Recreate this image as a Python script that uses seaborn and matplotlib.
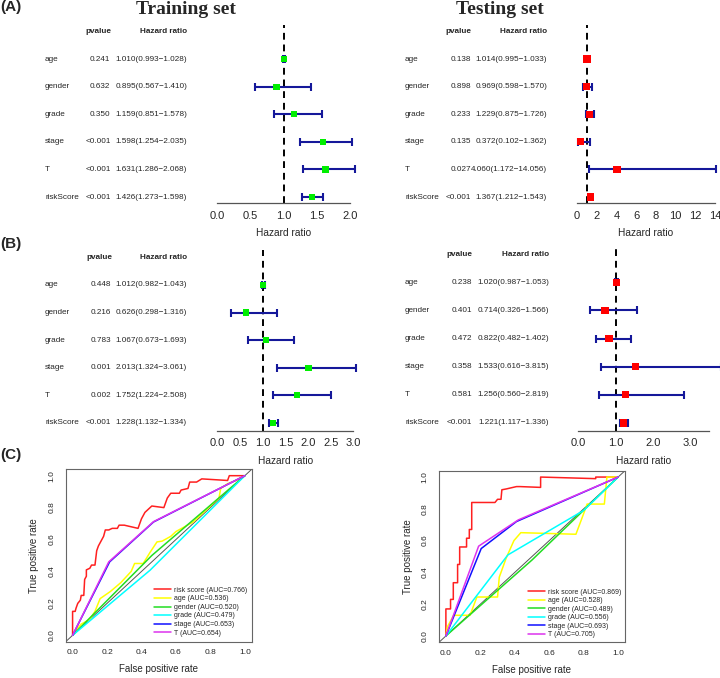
import numpy as np
import pandas as pd
import matplotlib
matplotlib.use("Agg")
import matplotlib.pyplot as plt
import seaborn as sns
from matplotlib.transforms import blended_transform_factory

sns.set_style("white")
plt.rcParams["font.family"] = ["Liberation Sans", "DejaVu Sans"]

# ---------------- data ----------------
variables = ["age", "gender", "grade", "stage", "T", "riskScore"]

trainA_p = ["0.241", "0.632", "0.350", "<0.001", "<0.001", "<0.001"]
trainA_hr = [1.010, 0.895, 1.159, 1.598, 1.631, 1.426]
trainA_lo = [0.993, 0.567, 0.851, 1.254, 1.286, 1.273]
trainA_hi = [1.028, 1.410, 1.578, 2.035, 2.068, 1.598]

testA_p = ["0.138", "0.898", "0.233", "0.135", "0.027", "<0.001"]
testA_hr = [1.014, 0.969, 1.229, 0.372, 4.060, 1.367]
testA_lo = [0.995, 0.598, 0.875, 0.102, 1.172, 1.212]
testA_hi = [1.033, 1.570, 1.726, 1.362, 14.056, 1.543]

trainB_p = ["0.448", "0.216", "0.783", "0.001", "0.002", "<0.001"]
trainB_hr = [1.012, 0.626, 1.067, 2.013, 1.752, 1.228]
trainB_lo = [0.982, 0.298, 0.673, 1.324, 1.224, 1.132]
trainB_hi = [1.043, 1.316, 1.693, 3.061, 2.508, 1.334]

testB_p = ["0.238", "0.401", "0.472", "0.358", "0.581", "<0.001"]
testB_hr = [1.020, 0.714, 0.822, 1.533, 1.256, 1.221]
testB_lo = [0.987, 0.326, 0.482, 0.616, 0.560, 1.117]
testB_hi = [1.053, 1.566, 1.402, 3.815, 2.819, 1.336]

trainA_ticks = [0.0, 0.5, 1.0, 1.5, 2.0]
trainA_ticklabels = ["0.0", "0.5", "1.0", "1.5", "2.0"]
testA_ticks = [0, 2, 4, 6, 8, 10, 12, 14]
testA_ticklabels = ["0", "2", "4", "6", "8", "10", "12", "14"]
trainB_ticks = [0.0, 0.5, 1.0, 1.5, 2.0, 2.5, 3.0]
trainB_ticklabels = ["0.0", "0.5", "1.0", "1.5", "2.0", "2.5", "3.0"]
testB_ticks = [0.0, 0.5, 1.0, 1.5, 2.0, 2.5, 3.0, 3.5]
testB_ticklabels = ["0.0", "", "1.0", "", "2.0", "", "3.0", ""]

roc_labels = ["risk score", "age", "gender", "grade", "stage", "T"]
train_auc = ["0.766", "0.536", "0.520", "0.479", "0.653", "0.654"]
test_auc = ["0.869", "0.528", "0.489", "0.556", "0.693", "0.705"]

train_risk_fpr = [0, 0, 0.015, 0.02, 0.03, 0.045, 0.05, 0.065, 0.07, 0.08, 0.08, 0.10, 0.11, 0.13, 0.14,
                  0.15, 0.17, 0.18, 0.19, 0.21, 0.23, 0.26, 0.27, 0.30, 0.38, 0.39, 0.40, 0.42, 0.44, 0.46,
                  0.53, 0.55, 0.57, 0.62, 0.63, 0.67, 0.68, 0.72, 0.75, 0.90, 0.91, 0.97, 1.0]
train_risk_tpr = [0, 0.15, 0.15, 0.17, 0.20, 0.22, 0.25, 0.25, 0.35, 0.37, 0.41, 0.42, 0.44, 0.44, 0.53,
                  0.56, 0.60, 0.62, 0.66, 0.66, 0.67, 0.67, 0.69, 0.69, 0.67, 0.70, 0.73, 0.77, 0.79, 0.81,
                  0.80, 0.86, 0.89, 0.89, 0.91, 0.92, 0.96, 0.96, 0.98, 0.97, 1.0, 1.0, 1.0]
train_age_fpr = [0, 0.02, 0.05, 0.10, 0.13, 0.16, 0.22, 0.28, 0.34, 0.36, 0.41, 0.45, 0.49, 0.52, 0.57,
                 0.60, 0.65, 0.70, 0.75, 0.80, 0.85, 0.86, 0.90, 0.95, 1.0]
train_age_tpr = [0, 0.03, 0.07, 0.10, 0.15, 0.23, 0.275, 0.33, 0.40, 0.45, 0.45, 0.52, 0.585, 0.59, 0.62,
                 0.65, 0.68, 0.71, 0.76, 0.81, 0.86, 0.92, 0.95, 0.97, 1.0]
train_gender_fpr = [0, 0.46, 1.0]
train_gender_tpr = [0, 0.50, 1.0]
train_grade_fpr = [0, 0.45, 1.0]
train_grade_tpr = [0, 0.408, 1.0]
train_stage_fpr = [0, 0.215, 0.47, 1.0]
train_stage_tpr = [0, 0.46, 0.71, 1.0]
train_T_fpr = [0, 0.21, 0.47, 1.0]
train_T_tpr = [0, 0.46, 0.712, 1.0]

test_risk_fpr = [0, 0, 0, 0.027, 0.027, 0.043, 0.043, 0.068, 0.068, 0.08, 0.08, 0.12, 0.12, 0.136, 0.136,
                 0.15, 0.15, 0.285, 0.30, 0.32, 0.325, 0.35, 0.41, 0.43, 0.55, 0.55, 0.87, 0.87, 1.0]
test_risk_tpr = [0, 0.058, 0.17, 0.17, 0.23, 0.23, 0.335, 0.335, 0.45, 0.45, 0.56, 0.56, 0.615, 0.615, 0.67,
                 0.67, 0.84, 0.84, 0.86, 0.86, 0.92, 0.925, 0.94, 0.94, 0.935, 1.0, 0.99, 1.0, 1.0]
test_age_fpr = [0, 0.01, 0.045, 0.14, 0.18, 0.30, 0.31, 0.35, 0.395, 0.435, 0.755, 0.80, 0.82, 0.92, 0.935, 1.0]
test_age_tpr = [0, 0.06, 0.13, 0.13, 0.245, 0.245, 0.37, 0.49, 0.60, 0.65, 0.64, 0.77, 0.83, 0.83, 1.0, 1.0]
test_gender_fpr = [0, 0.5, 1.0]
test_gender_tpr = [0, 0.478, 1.0]
test_grade_fpr = [0, 0.36, 0.80, 1.0]
test_grade_tpr = [0, 0.51, 0.79, 1.0]
test_stage_fpr = [0, 0.205, 0.41, 1.0]
test_stage_tpr = [0, 0.55, 0.72, 1.0]
test_T_fpr = [0, 0.19, 0.42, 1.0]
test_T_tpr = [0, 0.565, 0.73, 1.0]

roc_colors = ["#ff2020", "#ffff00", "#22dd22", "#00ffff", "#1010ff", "#dd33ee"]

# ---------------- figure ----------------
W, H = 720, 678
fig = plt.figure(figsize=(W / 100, H / 100), dpi=100)


def add_ax(l, t, r, b):
    return fig.add_axes([l / W, 1 - b / H, (r - l) / W, (b - t) / H])


ERR = "#15189a"


def forest(ax, pvals, hr, lo, hi, color, xlim, ticks, ticklabels, ylim, tx, msize):
    hr = np.array(hr); lo = np.array(lo); hi = np.array(hi)
    rows = np.arange(len(variables))
    ax.axvline(1.0, color="black", ls=(0, (3.5, 2.5)), lw=1.4, zorder=1)
    cont = ax.errorbar(hr, rows, xerr=[hr - lo, hi - hr], fmt="none", ecolor=ERR,
                       elinewidth=1.5, capsize=3.2, capthick=1.5, zorder=2)
    for ch in cont.get_children():
        ch.set_clip_on(False)
    df = pd.DataFrame({"hr": hr, "row": rows})
    sns.scatterplot(data=df, x="hr", y="row", marker="s", color=color, s=msize,
                    edgecolor="none", ax=ax, zorder=3, clip_on=False, legend=False)
    ax.set_xlim(*xlim)
    ax.set_ylim(*ylim)
    for s in ["left", "top", "right"]:
        ax.spines[s].set_visible(False)
    ax.spines["bottom"].set_color("#555555")
    ax.spines["bottom"].set_linewidth(0.9)
    ax.set_yticks([])
    ax.set_xticks(ticks)
    ax.set_xticklabels(ticklabels)
    ax.tick_params(axis="x", direction="out", length=3.8, width=0.9, color="#555555",
                   labelsize=8, pad=1.6)
    ax.set_ylabel("")
    ax.set_xlabel("Hazard ratio", fontsize=7.3, labelpad=5.5)
    ax.patch.set_alpha(0)
    tr = blended_transform_factory(fig.transFigure, ax.transData)
    name_x, p_right, hr_right, p_head = tx
    fs = 5.9
    ax.text(p_head / W, -0.98, "pvalue", transform=tr, ha="center", va="center",
            fontsize=fs, fontweight="bold")
    ax.text(hr_right / W, -0.98, "Hazard ratio", transform=tr, ha="right", va="center",
            fontsize=fs, fontweight="bold")
    for i, v in enumerate(variables):
        ax.text(name_x / W, i, v, transform=tr, ha="left", va="center", fontsize=fs)
        ax.text(p_right / W, i, pvals[i], transform=tr, ha="right", va="center", fontsize=fs)
        s = f"{hr[i]:.3f}({lo[i]:.3f}\u2212{hi[i]:.3f})"
        ax.text(hr_right / W, i, s, transform=tr, ha="right", va="center", fontsize=fs)


GREEN = "#00ee00"
RED = "#ff0000"

axA1 = add_ax(217, 25, 350, 203)
forest(axA1, trainA_p, trainA_hr, trainA_lo, trainA_hi, GREEN, (0, 2), trainA_ticks,
       trainA_ticklabels, (5.217, -1.232), (45, 110.5, 187, 98.5), 20)
axA2 = add_ax(577, 25, 715, 203)
forest(axA2, testA_p, testA_hr, testA_lo, testA_hi, RED, (0, 14), testA_ticks,
       testA_ticklabels, (5.217, -1.232), (405, 471, 547, 458), 26)
axB1 = add_ax(217.3, 250, 353.3, 430.7)
forest(axB1, trainB_p, trainB_hr, trainB_lo, trainB_hi, GREEN, (0, 3), trainB_ticks,
       trainB_ticklabels, (5.29, -1.27), (45, 111, 187, 99), 20)
axB2 = add_ax(578.3, 249, 709, 430.7)
forest(axB2, testB_p, testB_hr, testB_lo, testB_hi, RED, (0, 3.5), testB_ticks,
       testB_ticklabels, (5.275, -1.18), (405, 472, 549, 459), 26)


def roc(ax, curves, aucs, leg_anchor):
    ax.plot([-0.04, 1.04], [-0.04, 1.04], color="#555555", lw=0.7, zorder=1.5)
    for (fpr, tpr), lab, auc, col in zip(curves, roc_labels, aucs, roc_colors):
        sns.lineplot(x=fpr, y=tpr, sort=False, estimator=None, color=col, lw=1.1,
                     ax=ax, label=f"{lab} (AUC={auc})", zorder=2)
    ax.set_xlim(-0.04, 1.04)
    ax.set_ylim(-0.04, 1.04)
    ticks = [0, 0.2, 0.4, 0.6, 0.8, 1.0]
    ax.set_xticks(ticks)
    ax.set_yticks(ticks)
    ax.set_xticklabels(["0.0", "0.2", "0.4", "0.6", "0.8", "1.0"])
    ax.set_yticklabels(["0.0", "0.2", "0.4", "0.6", "0.8", "1.0"], rotation=90, va="center")
    for s in ax.spines.values():
        s.set_color("#666666")
        s.set_linewidth(0.8)
    ax.tick_params(axis="both", direction="out", length=3, width=0.8, color="#666666",
                   labelsize=6)
    ax.tick_params(axis="x", pad=2.2)
    ax.tick_params(axis="y", pad=4.5)
    ax.set_xlabel("False positive rate", fontsize=7, labelpad=5.8)
    ax.set_ylabel("True positive rate", fontsize=7, labelpad=6.5)
    ax.legend(loc="upper left", bbox_to_anchor=leg_anchor, frameon=False, fontsize=5,
              handlelength=2.4, handletextpad=0.45, labelspacing=0.22, borderpad=0,
              borderaxespad=0)


axC1 = add_ax(65.7, 469.3, 251.7, 641.7)
roc(axC1, [(train_risk_fpr, train_risk_tpr), (train_age_fpr, train_age_tpr),
           (train_gender_fpr, train_gender_tpr), (train_grade_fpr, train_grade_tpr),
           (train_stage_fpr, train_stage_tpr), (train_T_fpr, train_T_tpr)],
    train_auc, (0.475, 0.318))
axC2 = add_ax(439, 470.7, 625, 642.3)
roc(axC2, [(test_risk_fpr, test_risk_tpr), (test_age_fpr, test_age_tpr),
           (test_gender_fpr, test_gender_tpr), (test_grade_fpr, test_grade_tpr),
           (test_stage_fpr, test_stage_tpr), (test_T_fpr, test_T_tpr)],
    test_auc, (0.478, 0.312))

# titles and panel labels
fig.text(186 / W, 1 - 13.5 / H, "Training set", ha="center", va="baseline",
         fontsize=14, fontweight="bold", family=["Liberation Serif", "DejaVu Serif"])
fig.text(500 / W, 1 - 13.5 / H, "Testing set", ha="center", va="baseline",
         fontsize=14, fontweight="bold", family=["Liberation Serif", "DejaVu Serif"])
for lab, y in [("(A)", 11.5), ("(B)", 248.5), ("(C)", 458.5)]:
    fig.text(0.5 / W, 1 - y / H, lab, ha="left", va="baseline", fontsize=11, fontweight="bold")

fig.savefig("out.png", dpi=100)
